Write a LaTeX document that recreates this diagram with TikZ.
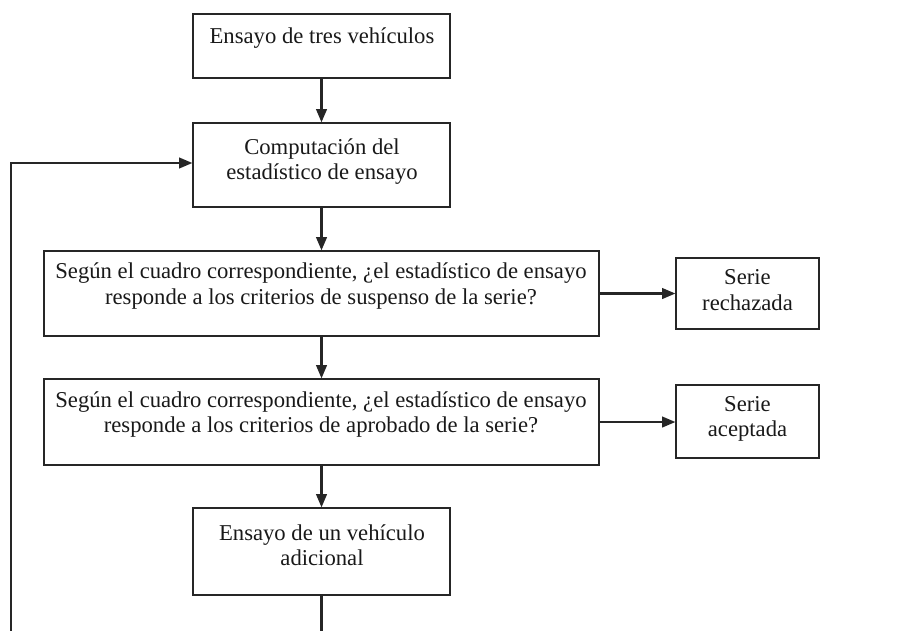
\documentclass[tikz,border=0pt]{standalone}
\usepackage{fontspec}
\setmainfont{Liberation Serif}
\usetikzlibrary{arrows.meta}
\begin{document}
\begin{tikzpicture}[x=0.75pt,y=-0.75pt,
  box/.style={draw=black!85, line width=0.9pt, rectangle, inner sep=0pt},
  lbl/.style={align=center, font=\fontsize{17}{19}\selectfont, inner sep=0pt, text=black!90},
  conn/.style={line width=1.6pt, draw=black!85, -{Triangle[length=10pt,width=8pt]}}]
\useasboundingbox (0,0) rectangle (913,631);
% boxes
\node[box, minimum width=192.75pt, minimum height=48pt] (b1) at (321.5,46) {};
\node[box, minimum width=192.75pt, minimum height=63pt] (b2) at (321.5,165) {};
\node[box, minimum width=416.25pt, minimum height=63.75pt] (b3) at (321.5,293.5) {};
\node[box, minimum width=416.25pt, minimum height=64.5pt] (b4) at (321.5,422) {};
\node[box, minimum width=192.75pt, minimum height=65.25pt] (b5) at (321.5,551.5) {};
\node[box, minimum width=107.25pt, minimum height=53.25pt] (r1) at (747.5,293.5) {};
\node[box, minimum width=107.25pt, minimum height=54.75pt] (r2) at (747.5,421.5) {};
% texts
\node[lbl] (t1) at (322,38) {Ensayo de tres vehículos};
\node[lbl] (t2) at (322,161.5) {Computación del\\estadístico de ensayo};
\node[lbl] (t3) at (321,286) {Según el cuadro correspondiente, ¿el estadístico de ensayo\\responde a los criterios de suspenso de la serie?};
\node[lbl] (t4) at (321,414.5) {Según el cuadro correspondiente, ¿el estadístico de ensayo\\responde a los criterios de aprobado de la serie?};
\node[lbl] (t5) at (322,545.5) {Ensayo de un vehículo\\adicional};
\node[lbl] (u1) at (747.5,290) {Serie\\rechazada};
\node[lbl] (u2) at (747.5,419) {Serie\\aceptada};
% connectors
\draw[conn] (b1) -- (b2);
\draw[conn] (b2) -- (b3);
\draw[conn] (b3) -- (b4);
\draw[conn] (b4) -- (b5);
\draw[conn] (b3.east) -- (r1.west);
\draw[conn] (b4.east) -- (b4.east -| r2.west);
\coordinate (lp) at (11,700);
\coordinate (lt) at (11,163);
\draw[conn] (b5.south) -- (b5.south |- lp) -- (lp) -- (lt) -- (lt -| b2.west);
\end{tikzpicture}
\end{document}
